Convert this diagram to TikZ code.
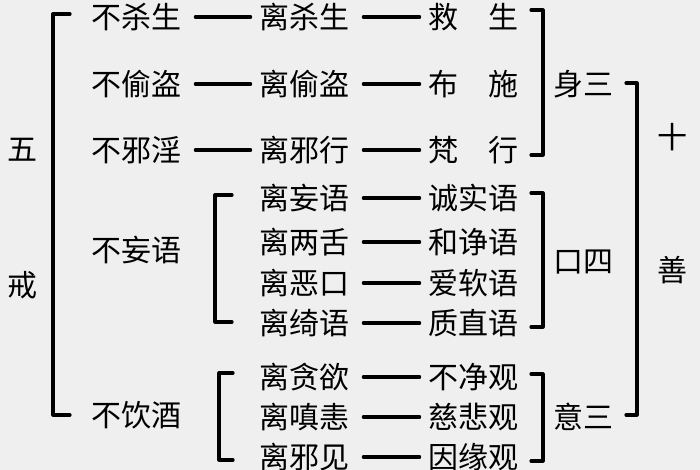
\documentclass[tikz,border=0pt]{standalone}
\usepackage{fontspec}
\setmainfont{Noto Sans CJK SC}
\usetikzlibrary{positioning}
\definecolor{paper}{HTML}{EFEFEF}
\tikzset{every node/.style={align=center, inner sep=0pt, font=\fontsize{15}{17}\selectfont},
  link/.style={line width=1.6pt, line cap=round, shorten <=7pt, shorten >=4pt},
  brace/.style={line width=1.6pt, line cap=round, line join=round}}
\begin{document}
\begin{tikzpicture}[x=0.5pt, y=-0.5pt]
    \fill[paper] (0,0) rectangle (700,470);
    \useasboundingbox (0,0) rectangle (700,470);
    % left column
    \node (wu) at (22,150) {五};
    \node (jie) at (22,285) {戒};
    \node (b1) at (136,17) {不杀生};
    \node (b2) at (136,84) {不偷盗};
    \node (b3) at (136,150) {不邪淫};
    \node (b4) at (136,250) {不妄语};
    \node (b5) at (136,415) {不饮酒};
    % middle column
    \foreach \n/\t/\y in {l1/离杀生/17, l2/离偷盗/84, l3/离邪行/150, l4/离妄语/198, l5/离两舌/242,
        l6/离恶口/283, l7/离绮语/323, l8/离贪欲/377, l9/离嗔恚/417, l10/离邪见/457}
        \node (\n) at (304,\y) {\t};
    % right column
    \foreach \n/\t/\y in {r1/救\hspace{1em}生/17, r2/布\hspace{1em}施/84, r3/梵\hspace{1em}行/150,
        r4/诚实语/198, r5/和诤语/242, r6/爱软语/283, r7/质直语/323, r8/不净观/377, r9/慈悲观/417, r10/因缘观/457}
        \node (\n) at (473,\y) {\t};
    \node (shen) at (583,84) {身三};
    \node (kou) at (583,262) {口四};
    \node (yi) at (583,417) {意三};
    \node (shi) at (672,137) {十};
    \node (shan) at (672,270) {善};

    \foreach \i in {1,2,3} \draw[link] (b\i.east) -- (l\i.west);
    \foreach \i in {1,...,10} \draw[link] (l\i.east) -- (r\i.west);

    % brackets
    \draw[brace] (70,14) -- (53,14) -- (53,415) -- (70,415);
    \draw[brace] (232,195) -- (215,195) -- (215,322) -- (232,322);
    \draw[brace] (233,373) -- (219,373) -- (219,460) -- (233,460);
    \draw[brace] (531,10) -- (543,10) -- (543,155) -- (531,155);
    \draw[brace] (531,193) -- (543,193) -- (543,327) -- (531,327);
    \draw[brace] (531,374) -- (543,374) -- (543,461) -- (531,461);
    \draw[brace] (626,83) -- (637,83) -- (637,415) -- (626,415);
\end{tikzpicture}
\end{document}
